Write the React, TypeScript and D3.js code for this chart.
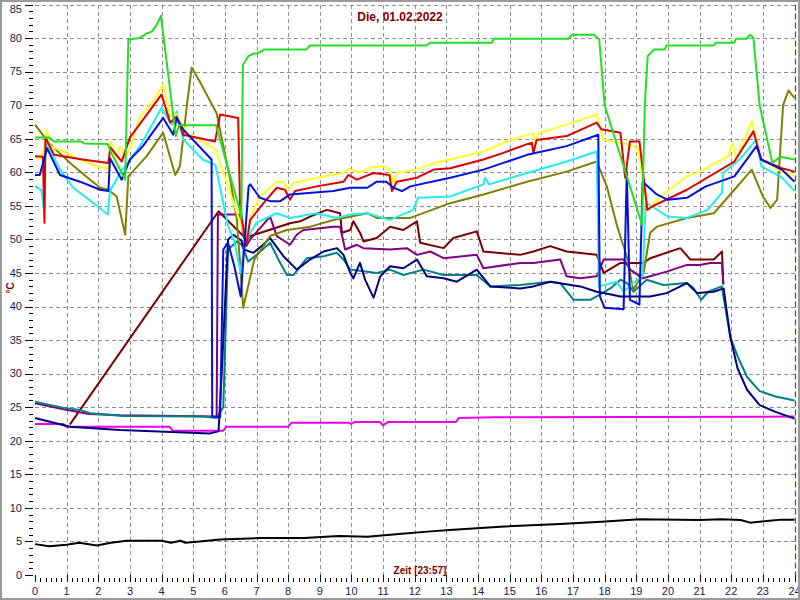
import * as d3 from 'd3';
import React, { useEffect, useRef } from 'react';

type Pt = [number, number]; // [hour, °C]

const titleText = 'Die, 01.02.2022';
const xAxisTitle = 'Zeit [23:57]';
const yAxisTitle = '°C';

const hourTicks = d3.range(0, 25);
const tempTicks = d3.range(0, 90, 5);

const lime: Pt[] = [
  [0, 65.2], [0.45, 65.2], [0.6, 64.6], [1.45, 64.6], [1.55, 64.3], [2.3, 64.2], [2.4, 63],
  [2.85, 58.9], [2.95, 79.8], [3.3, 80], [3.5, 80.6], [3.7, 81], [3.85, 82], [3.98, 83.3],
  [4.45, 65.4], [4.55, 67], [5.72, 67], [6.45, 54.7], [6.52, 53], [6.57, 76], [6.74, 77.3],
  [6.91, 77.7], [7.02, 77.7], [7.26, 78.3], [8.58, 78.3], [8.69, 78.9], [12.37, 78.9],
  [12.49, 79.3], [14.44, 79.3], [14.5, 79.9], [16.86, 79.9], [16.97, 80.5], [17.66, 80.5],
  [17.83, 79.8], [18.0, 70], [19.18, 52.2], [19.27, 70], [19.36, 77.3], [19.56, 78.3],
  [19.9, 78.3], [19.96, 78.9], [21.45, 78.9], [21.51, 79.3], [22.09, 79.3], [22.15, 79.9],
  [22.49, 79.9], [22.6, 80.5], [22.7, 80.1], [22.9, 70], [23.3, 61.4], [23.55, 62.3], [24, 61.9]
];

const yellow: Pt[] = [
  [0, 62.2], [0.2, 62], [0.3, 64], [0.37, 66.4], [0.47, 63.9], [0.9, 63.1], [1.42, 61.9],
  [1.95, 60.9], [2.32, 60.5], [2.4, 64.6], [2.55, 62.2], [2.7, 63.9], [2.85, 62.2], [3.0, 63.4],
  [3.32, 68.3], [3.73, 70.6], [4.05, 73.1], [4.27, 68.3], [4.48, 68.6], [4.8, 65.9], [5.7, 63.4],
  [6.67, 50], [6.8, 53.4], [7.11, 56.4], [7.64, 58.6], [7.85, 58.6], [8.0, 57.4], [8.16, 58.4],
  [8.9, 59.2], [9.75, 59.9], [9.9, 60.5], [10.27, 60], [10.6, 60.7], [11.0, 60.9], [11.22, 60.4],
  [11.33, 58.2], [11.43, 59.9], [12.07, 60.4], [12.6, 61.4], [13.12, 61.9], [14.17, 63.1],
  [14.8, 64.4], [15.55, 65.6], [15.75, 65.8], [15.8, 64], [15.9, 65.8], [16.8, 67.1],
  [17.75, 68.6], [17.95, 64.9], [18.8, 64.1], [19.05, 63.6], [19.35, 54.4], [19.76, 56.4],
  [20.6, 59.4], [21.0, 60.1], [21.9, 62.4], [22.05, 64.4], [22.15, 61.9], [22.65, 67.6],
  [22.95, 61.9], [23.6, 60.1], [24, 59.4]
];

const red: Pt[] = [
  [0, 62.4], [0.25, 62.3], [0.3, 52.5], [0.33, 65.2], [0.6, 62.6], [1.5, 61.9], [2.32, 61.4],
  [2.38, 63.7], [2.74, 61.6], [3.0, 65.2], [3.41, 67.8], [4.0, 71.6], [4.27, 67.4], [4.48, 68.3],
  [4.68, 65.6], [5.69, 64.6], [5.85, 68.6], [6.42, 68.1], [6.48, 55], [6.67, 49], [6.8, 52.9],
  [7.22, 55.4], [7.64, 57.7], [7.9, 57.4], [8.06, 55.9], [8.22, 57.2], [8.9, 57.9], [9.75, 58.6],
  [9.9, 59.6], [10.17, 58.9], [10.7, 59.9], [11.2, 59.6], [11.28, 57.2], [11.43, 58.6],
  [12.07, 59.2], [12.6, 60.4], [13.12, 60.6], [14.17, 61.9], [14.8, 62.9], [15.55, 64.2],
  [15.7, 64.4], [15.75, 62.9], [15.85, 64.8], [16.8, 65.4], [17.75, 67.4], [17.9, 66.4],
  [18.5, 65.9], [18.65, 59.2], [18.8, 64.6], [19.1, 64.6], [19.35, 54.4], [19.5, 54.9],
  [20.6, 57.4], [22.1, 61.6], [22.7, 66.1], [22.95, 61.9], [23.6, 60.6], [24, 60.1]
];

const blue: Pt[] = [
  [0, 59.6], [0.15, 59.6], [0.38, 63.6], [0.79, 59.6], [1.42, 58.6], [2.06, 57.4], [2.32, 57.2],
  [2.37, 62.1], [2.74, 58.9], [3.0, 61.9], [3.41, 63.9], [4.05, 68.1], [4.37, 65.6], [4.48, 68.1],
  [4.68, 66.4], [5.58, 61.9], [5.6, 23.6], [5.85, 23.5], [5.95, 48.5], [6.1, 49.5], [6.3, 46],
  [6.5, 41.5], [6.75, 57.9], [6.8, 58.2], [7.11, 56.2], [7.43, 55.7], [7.75, 55.7], [8.06, 56.7],
  [9.43, 57.2], [9.96, 57.7], [10.5, 57.7], [10.8, 58.6], [11.1, 58.6], [11.33, 57.7],
  [11.6, 57.2], [11.86, 57.9], [13.12, 59.2], [14.17, 60.4], [14.8, 61.4], [15.55, 62.6],
  [16.8, 63.9], [17.8, 65.6], [17.85, 41.5], [18.0, 39.8], [18.6, 39.6], [18.7, 60.1],
  [18.8, 41], [19.1, 40.3], [19.2, 58.6], [19.65, 56.7], [20.0, 55.9], [20.6, 56.2],
  [21.2, 57.9], [22.1, 59.4], [22.8, 63.9], [22.95, 61.9], [23.6, 60.4], [24, 58.6]
];

const cyan: Pt[] = [
  [0, 57.9], [0.2, 57.4], [0.27, 54.9], [0.35, 64.5], [0.79, 60.4], [1.21, 57.7], [1.63, 56.2],
  [2.3, 53.7], [2.37, 57.2], [2.69, 59.9], [3.0, 61.9], [3.32, 63.9], [4.0, 69.6], [4.32, 67.1],
  [4.48, 69.1], [4.68, 64.9], [5.3, 61.9], [5.7, 61.1], [6.1, 52], [6.3, 49.7], [6.5, 45],
  [6.6, 49], [6.75, 50.5], [7.0, 52.5], [7.64, 53.9], [8.06, 53.2], [8.9, 53.9], [9.54, 53.2],
  [9.96, 53.7], [10.5, 53.9], [11.22, 52.9], [11.96, 54.4], [12.1, 56.2], [13.12, 56.4],
  [14.17, 58.2], [14.22, 59.2], [14.35, 58.2], [15.55, 59.9], [16.8, 61.6], [17.75, 63.1],
  [17.82, 43], [18.38, 43.7], [18.6, 42.2], [18.9, 43.5], [19.2, 44.5], [19.3, 55.5],
  [19.5, 54.9], [20.0, 53.4], [20.6, 53.2], [21.25, 54.4], [21.7, 56.9], [21.75, 59.9],
  [22.3, 62.1], [22.8, 64.9], [22.95, 60.9], [23.6, 59.2], [24, 57.2]
];

const olive: Pt[] = [
  [0, 67.1], [0.47, 64.2], [1.11, 61.4], [1.74, 58.9], [2.06, 57.7], [2.32, 57.4], [2.58, 56.4],
  [2.85, 50.7], [2.95, 59.4], [3.53, 62.4], [4.05, 65.9], [4.43, 59.6], [4.58, 60.9], [4.8, 70],
  [4.95, 75.6], [5.22, 73.4], [5.74, 68.8], [6.17, 58.9], [6.38, 52.9], [6.58, 39.8], [6.93, 47],
  [7.43, 50.5], [7.96, 51.4], [8.7, 51.9], [9.43, 52.9], [10.5, 53.9], [10.8, 53.2],
  [11.86, 53.2], [13.12, 55.4], [14.17, 56.7], [15.55, 58.6], [16.8, 60.1], [17.75, 61.6],
  [18.07, 57.9], [18.4, 51.9], [18.7, 47.5], [18.9, 42.5], [19.23, 45], [19.44, 51],
  [19.65, 51.9], [20.6, 53.2], [21.45, 53.9], [22.1, 57.4], [22.65, 60.4], [23.0, 56.4],
  [23.24, 54.7], [23.45, 55.9], [23.64, 70], [23.81, 72.2], [24, 71.1]
];

const maroon: Pt[] = [
  [1.1, 22.4], [5.8, 54.2], [6.69, 50], [6.8, 50.5], [8.06, 52.4], [8.38, 52.7], [8.69, 53.4],
  [9.22, 54.4], [9.64, 53.9], [9.7, 51], [9.96, 51.4], [10.06, 52.7], [10.27, 51], [10.38, 49.7],
  [10.8, 50.2], [11.22, 51.9], [11.64, 51.4], [12.07, 52.7], [12.17, 49.5], [12.91, 48.7],
  [13.22, 50.2], [13.96, 51.2], [14.17, 48.2], [15.33, 47.7], [15.75, 48.2], [16.28, 49],
  [16.8, 48.2], [17.75, 47.7], [17.97, 45], [18.5, 46.5], [19.23, 46.5], [19.44, 47.2],
  [20.39, 48.7], [20.71, 47], [21.45, 47], [21.71, 48.2], [21.75, 43.3]
];

const purple: Pt[] = [
  [0, 25.6], [0.9, 24.7], [1.7, 24], [2.7, 23.8], [5.74, 23.6], [5.78, 53.7], [6.45, 53.7],
  [6.67, 49], [6.8, 50], [7.43, 53.4], [7.64, 50.5], [8.06, 49.2], [8.27, 50.7], [8.48, 51.4],
  [9.43, 51.9], [9.64, 51.9], [9.8, 48.5], [10.17, 49.2], [10.38, 48.7], [11.22, 48.5],
  [11.75, 48.7], [12.07, 47.7], [12.49, 48.2], [12.91, 47.2], [13.96, 47.7], [14.17, 45.7],
  [15.33, 46.5], [15.75, 46.5], [16.6, 47], [16.8, 44.5], [17.23, 44.2], [17.75, 44.5],
  [17.97, 47], [18.6, 47], [18.81, 45.5], [19.2, 44.2], [19.44, 44.5], [19.96, 45.2],
  [20.6, 46.2], [21.0, 46.2], [21.34, 46.5], [21.71, 46.5], [21.75, 43.3]
];

const navy: Pt[] = [
  [0, 23.4], [1.1, 22.1], [2.69, 21.6], [5.53, 21.1], [5.8, 21.4], [5.9, 30], [6.1, 50],
  [6.27, 50.7], [6.53, 49.8], [6.6, 48.5], [6.9, 48], [7.16, 49], [7.43, 50.2], [7.85, 47.5],
  [8.27, 45.5], [8.69, 47], [9.12, 48.2], [9.54, 48.7], [9.75, 47.7], [9.96, 45], [10.06, 44.2],
  [10.27, 46.5], [10.43, 44], [10.7, 41.3], [10.91, 44.5], [11.22, 46], [11.64, 45.7],
  [12.07, 47], [12.38, 44.5], [12.91, 44.2], [13.33, 43.7], [13.96, 45.5], [14.39, 43],
  [15.33, 42.7], [15.75, 43], [16.28, 43.7], [17.23, 43], [17.75, 42.2], [17.97, 42],
  [18.5, 41.5], [19.44, 41.5], [19.96, 42], [20.6, 43.5], [20.92, 42], [21.45, 42.2],
  [21.76, 42.7], [21.97, 35.5], [22.2, 30.8], [22.5, 27.6], [22.9, 25.3], [23.4, 24.3], [24, 23.3]
];

const teal: Pt[] = [
  [0, 25.8], [0.9, 24.9], [1.42, 24.6], [1.74, 24.1], [2.8, 23.7], [5.33, 23.6], [5.74, 23.4],
  [5.95, 25], [6.1, 48.5], [6.38, 49.7], [6.53, 49.2], [6.74, 46.7], [7.0, 47.7], [7.43, 49.5],
  [7.69, 47], [7.96, 44.7], [8.17, 44.7], [8.59, 47.2], [9.12, 47.5], [9.54, 48], [9.75, 47],
  [9.96, 45.5], [10.8, 45], [11.22, 45.5], [11.64, 44.7], [12.28, 45.5], [12.91, 44.7],
  [13.96, 44.7], [14.39, 43], [15.33, 43.2], [16.28, 43.7], [16.6, 43.5], [17.02, 41],
  [17.55, 41], [17.86, 41.8], [18.18, 42.7], [18.5, 44], [18.71, 43.5], [18.91, 42.2],
  [19.33, 44], [19.86, 43.2], [20.6, 43.5], [20.8, 42.8], [21.05, 41], [21.27, 42.2],
  [21.7, 43], [21.97, 35.5], [22.2, 32.6], [22.5, 29.5], [22.9, 27.4], [23.4, 26.6], [24, 26.0]
];

const magenta: Pt[] = [
  [0, 22.5], [0.9, 22.5], [1.0, 22.1], [4.25, 22.1], [4.35, 21.5], [5.95, 21.5], [6.05, 22.1],
  [8.0, 22.1], [8.1, 22.7], [9.9, 22.7], [10.0, 22.5], [10.1, 22.8], [10.9, 22.8], [11.0, 22.3],
  [11.15, 22.8], [13.3, 22.8], [13.4, 23.4], [14.5, 23.5], [24, 23.6]
];

const black: Pt[] = [
  [0, 4.6], [0.45, 4.3], [1.0, 4.5], [1.4, 4.8], [1.95, 4.4], [2.4, 4.8], [2.9, 5.1], [4.0, 5.1],
  [4.3, 4.8], [4.6, 5.1], [4.75, 4.8], [5.2, 5.0], [5.85, 5.3], [7.1, 5.5], [8.5, 5.5],
  [9.6, 5.8], [10.5, 5.7], [11.5, 6.1], [12.5, 6.5], [13.1, 6.7], [14.7, 7.2], [16.6, 7.6],
  [17.9, 7.95], [19.1, 8.3], [21.0, 8.2], [21.7, 8.3], [22.3, 8.2], [22.6, 7.8], [23.2, 8.1],
  [23.6, 8.25], [24, 8.25]
];

// drawing order: first ones end up underneath
const series: { name: string; color: string; data: Pt[] }[] = [
  { name: 'magenta', color: '#ee00ee', data: magenta },
  { name: 'black', color: '#000000', data: black },
  { name: 'maroon', color: '#7a0000', data: maroon },
  { name: 'purple', color: '#800080', data: purple },
  { name: 'teal', color: '#008080', data: teal },
  { name: 'navy', color: '#000080', data: navy },
  { name: 'olive', color: '#808000', data: olive },
  { name: 'cyan', color: '#22eeee', data: cyan },
  { name: 'yellow', color: '#ffff22', data: yellow },
  { name: 'red', color: '#e00000', data: red },
  { name: 'blue', color: '#0010e0', data: blue },
  { name: 'lime', color: '#22e022', data: lime }
];

export default function App() {
  const svgRef = useRef<SVGSVGElement | null>(null);

  useEffect(() => {
    const width = 800;
    const height = 600;
    const svg = d3.select(svgRef.current);
    svg.selectAll('*').remove();
    svg.attr('width', width).attr('height', height);

    const x = d3.scaleLinear().domain([0, 24]).range([35, 794.5]);
    const y = d3.scaleLinear().domain([0, 85]).range([575, 4.5]);

    svg.append('rect')
      .attr('x', 0).attr('y', 0).attr('width', width).attr('height', height)
      .attr('fill', '#ffffff');

    // dashed grid
    const grid = svg.append('g').attr('stroke', '#8c8c8c').attr('stroke-width', 1)
      .attr('stroke-dasharray', '4,3').attr('shape-rendering', 'crispEdges');
    grid.selectAll('.vg').data(hourTicks.filter((h) => h > 0 && h < 24)).enter()
      .append('line')
      .attr('x1', (d) => Math.round(x(d)) + 0.5).attr('x2', (d) => Math.round(x(d)) + 0.5)
      .attr('y1', y(85)).attr('y2', y(0));
    grid.selectAll('.hg').data(tempTicks.filter((t) => t > 0)).enter()
      .append('line')
      .attr('x1', x(0)).attr('x2', x(24))
      .attr('y1', (d) => Math.round(y(d)) + 0.5).attr('y2', (d) => Math.round(y(d)) + 0.5);

    // end-of-day marker
    svg.append('line')
      .attr('x1', Math.round(x(24)) + 0.5).attr('x2', Math.round(x(24)) + 0.5)
      .attr('y1', y(85)).attr('y2', y(0))
      .attr('stroke', '#008000').attr('stroke-width', 1.2).attr('stroke-dasharray', '6,3');

    // y ticks (minor every 1, major every 5)
    const yt = svg.append('g').attr('stroke', '#000').attr('shape-rendering', 'crispEdges');
    yt.selectAll('line').data(d3.range(0, 86)).enter().append('line')
      .attr('x1', (d) => (d % 5 === 0 ? 25 : 29)).attr('x2', 33)
      .attr('y1', (d) => Math.round(y(d)) + 0.5).attr('y2', (d) => Math.round(y(d)) + 0.5);
    // the top label would be cut by the frame, keep it just inside
    svg.append('g').selectAll('text').data(tempTicks).enter().append('text')
      .attr('x', 22).attr('y', (d) => Math.max(y(d), 9)).attr('dy', '0.35em')
      .attr('text-anchor', 'end').attr('fill', '#20204a')
      .style('font-family', 'Liberation Sans, Arial, sans-serif').style('font-size', '11px')
      .text((d) => d);

    // x ticks (minor every 10 minutes, major every hour)
    const xt = svg.append('g').attr('stroke', '#000').attr('shape-rendering', 'crispEdges');
    xt.selectAll('line').data(d3.range(0, 24 * 6 + 1)).enter().append('line')
      .attr('x1', (d) => Math.round(x(d / 6)) + 0.5).attr('x2', (d) => Math.round(x(d / 6)) + 0.5)
      .attr('y1', (d) => (d % 6 === 0 ? 575 : 578)).attr('y2', 582);
    svg.append('g').selectAll('text').data(hourTicks).enter().append('text')
      .attr('x', (d) => x(d)).attr('y', 591).attr('dy', '0.35em')
      .attr('text-anchor', 'middle').attr('fill', '#20204a')
      .style('font-family', 'Liberation Sans, Arial, sans-serif').style('font-size', '11px')
      .text((d) => d);

    // series
    const line = d3.line<Pt>().x((d) => x(d[0])).y((d) => y(d[1]));
    svg.append('g').selectAll('path').data(series).enter().append('path')
      .attr('d', (s) => line(s.data))
      .attr('fill', 'none').attr('stroke', (s) => s.color)
      .attr('stroke-width', 2).attr('stroke-linejoin', 'round');

    // titles
    svg.append('text')
      .attr('x', 400).attr('y', 17).attr('dy', '0.35em').attr('text-anchor', 'middle')
      .attr('fill', '#800000').style('font-family', 'Liberation Sans, Arial, sans-serif')
      .style('font-size', '12px').style('font-weight', 'bold').text(titleText);
    svg.append('text')
      .attr('x', 420).attr('y', 570).attr('dy', '0.35em').attr('text-anchor', 'middle')
      .attr('fill', '#800000').style('font-family', 'Liberation Sans, Arial, sans-serif')
      .style('font-size', '10px').style('font-weight', 'bold').text(xAxisTitle);
    svg.append('text')
      .attr('transform', 'translate(10,288) rotate(-90)').attr('dy', '0.35em')
      .attr('text-anchor', 'middle').attr('fill', '#800000')
      .style('font-family', 'Liberation Sans, Arial, sans-serif')
      .style('font-size', '10px').style('font-weight', 'bold').text(yAxisTitle);

    // outer frame
    svg.append('rect')
      .attr('x', 1).attr('y', 1).attr('width', width - 2).attr('height', height - 2)
      .attr('fill', 'none').attr('stroke', '#9a9a9a').attr('stroke-width', 2);
  }, []);

  return (
    <div style={{ position: 'absolute', left: 0, top: 0 }}>
      <svg ref={svgRef} style={{ display: 'block' }} />
    </div>
  );
}
